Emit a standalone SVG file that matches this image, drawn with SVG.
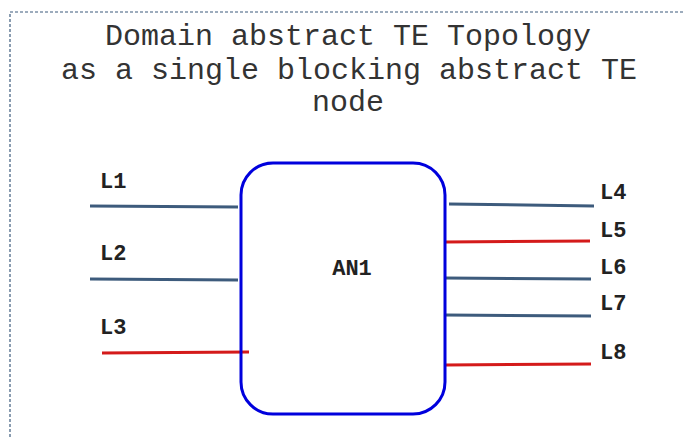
<svg xmlns="http://www.w3.org/2000/svg" width="683" height="437" viewBox="0 0 683 437">
<style>
.title{font-family:"Liberation Mono",monospace;font-size:30px;fill:#333;text-anchor:middle}
.lbl{font-family:"Liberation Mono",monospace;font-size:22px;font-weight:bold;fill:#222}
.blue{stroke:#3d5b7c;stroke-width:3;fill:none}
.red{stroke:#d41a1a;stroke-width:3;fill:none}
</style>
<rect x="10" y="12" width="690" height="450" fill="none" stroke="#3d5b7c" stroke-width="1.2" stroke-dasharray="3,2"/>
<g id="title">
<text class="title" x="348" y="45">Domain abstract TE Topology</text>
<text class="title" x="349" y="79">as a single blocking abstract TE</text>
<text class="title" x="348" y="111">node</text>
</g>
<g id="connectors">
<line class="blue" x1="90" y1="206" x2="238" y2="207"/>
<line class="blue" x1="90" y1="279" x2="238" y2="280"/>
<line class="red" x1="102" y1="353" x2="249" y2="352"/>
<line class="blue" x1="449" y1="204" x2="594" y2="206"/>
<line class="red" x1="445" y1="242" x2="590" y2="241"/>
<line class="blue" x1="445" y1="278" x2="591" y2="279"/>
<line class="blue" x1="445" y1="315" x2="591" y2="316"/>
<line class="red" x1="445" y1="365" x2="591" y2="364"/>
</g>
<g id="AN1">
<rect x="241" y="163" width="204" height="251" rx="32" ry="32" fill="none" stroke="#0000dd" stroke-width="3"/>
<text class="lbl" x="352" y="275" text-anchor="middle">AN1</text>
</g>
<g id="labels">
<text class="lbl" x="100" y="188">L1</text>
<text class="lbl" x="100" y="260">L2</text>
<text class="lbl" x="100" y="334">L3</text>
<text class="lbl" x="600" y="199">L4</text>
<text class="lbl" x="600" y="237">L5</text>
<text class="lbl" x="600" y="274">L6</text>
<text class="lbl" x="600" y="310">L7</text>
<text class="lbl" x="600" y="359">L8</text>
</g>
</svg>
